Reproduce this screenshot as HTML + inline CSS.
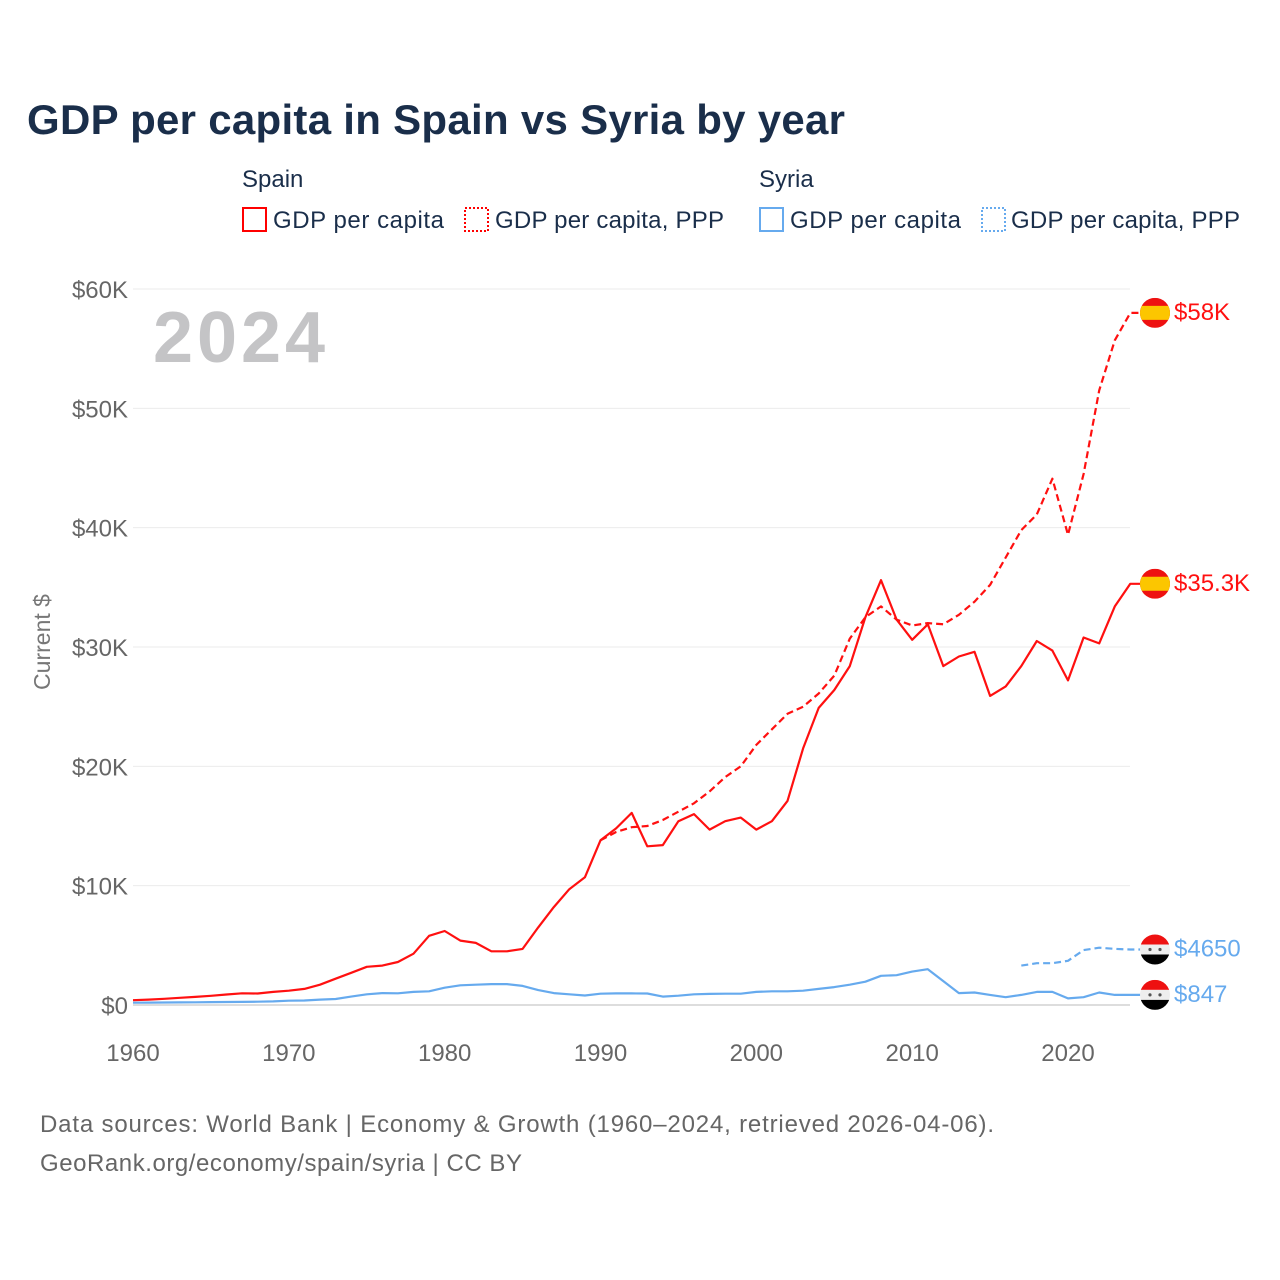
<!DOCTYPE html>
<html><head><meta charset="utf-8"><style>
html,body{margin:0;padding:0;background:#fff;}
svg{display:block;font-family:"Liberation Sans",sans-serif;}
</style></head><body>
<svg id="chart" width="1280" height="1280" viewBox="0 0 1280 1280">
<text x="27" y="134" font-size="42" font-weight="bold" fill="#1a2e4a" textLength="818">GDP per capita in Spain vs Syria by year</text>
<g font-size="24" fill="#1a2e4a">
<text x="242" y="187">Spain</text>
<rect x="243" y="208" width="23" height="23" fill="none" stroke="#ff0000" stroke-width="2"/>
<text x="273" y="228" textLength="171">GDP per capita</text>
<rect x="465" y="208" width="23" height="23" fill="none" stroke="#ff0000" stroke-width="2" stroke-dasharray="2,2"/>
<text x="495" y="228" textLength="229">GDP per capita, PPP</text>
<text x="759" y="187">Syria</text>
<rect x="760" y="208" width="23" height="23" fill="none" stroke="#66aaee" stroke-width="2"/>
<text x="790" y="228" textLength="171">GDP per capita</text>
<rect x="982" y="208" width="23" height="23" fill="none" stroke="#66aaee" stroke-width="2" stroke-dasharray="2,2"/>
<text x="1011" y="228" textLength="229">GDP per capita, PPP</text>
</g>
<text x="153" y="362" font-size="72" font-weight="bold" fill="#c4c4c6" textLength="172">2024</text>
<text transform="translate(50,642) rotate(-90)" text-anchor="middle" font-size="23" fill="#777">Current $</text>
<g id="grid"></g><g id="series"></g><g id="ends"></g>
<text x="40" y="1132" font-size="24" fill="#666" textLength="954">Data sources: World Bank | Economy &amp; Growth (1960–2024, retrieved 2026-04-06).</text>
<text x="40" y="1171" font-size="24" fill="#666" textLength="482">GeoRank.org/economy/spain/syria | CC BY</text>
</svg>
<script>
const yTicks=[0,10,20,30,40,50,60];
const yTickLabels=["$0","$10K","$20K","$30K","$40K","$50K","$60K"];
const xTicks=[1960,1970,1980,1990,2000,2010,2020];
const spainYears=[1960,1961,1962,1963,1964,1965,1966,1967,1968,1969,1970,1971,1972,1973,1974,1975,1976,1977,1978,1979,1980,1981,1982,1983,1984,1985,1986,1987,1988,1989,1990,1991,1992,1993,1994,1995,1996,1997,1998,1999,2000,2001,2002,2003,2004,2005,2006,2007,2008,2009,2010,2011,2012,2013,2014,2015,2016,2017,2018,2019,2020,2021,2022,2023,2024];
const spainGdp=[0.40,0.45,0.52,0.60,0.68,0.77,0.88,0.98,0.96,1.1,1.2,1.35,1.7,2.2,2.7,3.2,3.3,3.6,4.3,5.8,6.2,5.4,5.2,4.5,4.5,4.7,6.5,8.2,9.7,10.7,13.8,14.8,16.1,13.3,13.4,15.4,16.0,14.7,15.4,15.7,14.7,15.4,17.1,21.5,24.9,26.4,28.4,32.5,35.6,32.3,30.6,31.9,28.4,29.2,29.6,25.9,26.7,28.4,30.5,29.7,27.2,30.8,30.3,33.4,35.3];
const spainPppYears=[1990,1991,1992,1993,1994,1995,1996,1997,1998,1999,2000,2001,2002,2003,2004,2005,2006,2007,2008,2009,2010,2011,2012,2013,2014,2015,2016,2017,2018,2019,2020,2021,2022,2023,2024];
const spainPpp=[13.8,14.5,14.9,15.0,15.5,16.2,16.9,17.9,19.1,20.0,21.8,23.1,24.4,25.0,26.1,27.6,30.7,32.5,33.4,32.3,31.8,32.0,31.9,32.7,33.8,35.2,37.5,39.8,41.1,44.1,39.4,44.5,51.5,55.7,58.0];
const syriaGdp=[0.19,0.2,0.21,0.22,0.23,0.24,0.25,0.26,0.28,0.3,0.36,0.38,0.45,0.5,0.7,0.9,1.0,0.98,1.1,1.15,1.45,1.65,1.7,1.75,1.75,1.6,1.25,1.0,0.9,0.8,0.95,0.97,0.97,0.96,0.7,0.78,0.9,0.93,0.95,0.95,1.1,1.15,1.15,1.2,1.35,1.5,1.7,1.95,2.45,2.5,2.8,3.0,2.0,1.0,1.05,0.85,0.65,0.85,1.1,1.1,0.55,0.65,1.05,0.85,0.847];
const syriaPppYears=[2017,2018,2019,2020,2021,2022,2023,2024];
const syriaPpp=[3.3,3.5,3.5,3.7,4.6,4.8,4.7,4.65];
const endLabels=["$58K","$35.3K","$4650","$847"];

const NS="http://www.w3.org/2000/svg";
const X=y=>133+(y-1960)*(1068-133)/60;
const Y=v=>1005-v*(1005-289)/60;
function mk(tag,attrs,parent){const e=document.createElementNS(NS,tag);for(const k in attrs)e.setAttribute(k,attrs[k]);parent.appendChild(e);return e;}
const grid=document.getElementById('grid');
yTicks.forEach((t,i)=>{
  const l=mk('line',{x1:133,x2:1130,y1:Y(t),y2:Y(t),stroke:i===0?'#ddd':'#ebebeb','stroke-width':i===0?2:1},grid);
  
  
  const tx=mk('text',{x:128,y:Y(t)+9,'text-anchor':'end','font-size':24,fill:'#666'},grid);
  tx.textContent=yTickLabels[i];
  
  
});
xTicks.forEach(t=>{
  const tx=mk('text',{x:X(t),y:1061,'text-anchor':'middle','font-size':24,fill:'#666'},grid);
  tx.textContent=t;
  
  
});
const ser=document.getElementById('series');
function line(xs,vs,color,dash,name){
  const d=xs.map((x,i)=>(i?'L':'M')+X(x).toFixed(1)+','+Y(vs[i]).toFixed(1)).join('')+'L'+(X(2024)+10)+','+Y(vs[vs.length-1]).toFixed(1);
  const p=mk('path',{d:d,fill:'none',stroke:color,'stroke-width':2.2,'stroke-linejoin':'round'},ser);
  if(dash)p.setAttribute('stroke-dasharray','7,4');
  
  
}
line(spainYears,spainGdp,'#ff1010',false,'spain-gdp-line');
line(spainPppYears,spainPpp,'#ff1010',true,'spain-ppp-line');
line(spainYears,syriaGdp,'#66aaee',false,'syria-gdp-line');
line(syriaPppYears,syriaPpp,'#66aaee',true,'syria-ppp-line');
const ends=document.getElementById('ends');
const endVals=[spainPpp[spainPpp.length-1],spainGdp[spainGdp.length-1],syriaPpp[syriaPpp.length-1],syriaGdp[syriaGdp.length-1]];
const endColors=['#ff1010','#ff1010','#66aaee','#66aaee'];
endVals.forEach((v,i)=>{
  const cy=Y(v),cx=1155;
  const g=mk('g',{},ends);
  
  
  const cid='c'+i;
  const cp=mk('clipPath',{id:cid},g);mk('circle',{cx:cx,cy:cy,r:15},cp);
  const fg=mk('g',{'clip-path':'url(#'+cid+')'},g);
  if(i<2){
    mk('rect',{x:cx-15,y:cy-15,width:30,height:30,fill:'#ee1111'},fg);
    mk('rect',{x:cx-15,y:cy-7,width:30,height:14,fill:'#fcc600'},fg);
  }else{
    mk('rect',{x:cx-15,y:cy-15,width:30,height:10,fill:'#ee1111'},fg);
    mk('rect',{x:cx-15,y:cy-5,width:30,height:10,fill:'#eee'},fg);
    mk('rect',{x:cx-15,y:cy+5,width:30,height:10,fill:'#000'},fg);
    mk('circle',{cx:cx-5,cy:cy,r:1.6,fill:'#555'},fg);
    mk('circle',{cx:cx+5,cy:cy,r:1.6,fill:'#555'},fg);
  }
  const t=mk('text',{x:1174,y:cy+7,'font-size':24,fill:endColors[i]},ends);
  t.textContent=endLabels[i];
  
  
});
</script>
</body></html>
